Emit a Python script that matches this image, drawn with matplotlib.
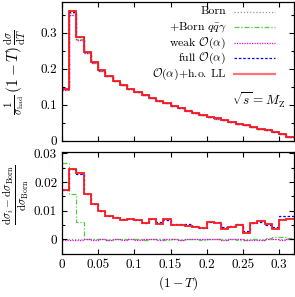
import numpy as np
import matplotlib
matplotlib.use("Agg")
import matplotlib.pyplot as plt
from matplotlib.ticker import MultipleLocator, FuncFormatter
from matplotlib.lines import Line2D

plt.rcParams['font.family'] = 'serif'
plt.rcParams['font.serif'] = ['cmr10']
plt.rcParams['mathtext.fontset'] = 'cm'
plt.rcParams['axes.formatter.use_mathtext'] = True
plt.rcParams['axes.unicode_minus'] = False

# bin edges (1-T), width 0.01
edges = np.round(np.arange(0, 0.3201, 0.01), 3)

# top panel: Born distribution (1/sigma)(1-T) dsigma/dT
born_top = [0.140, 0.350, 0.280, 0.243, 0.215, 0.194, 0.178, 0.165, 0.153, 0.143,
            0.134, 0.126, 0.118, 0.110, 0.103, 0.096, 0.089, 0.083, 0.077, 0.071,
            0.066, 0.061, 0.056, 0.051, 0.046, 0.042, 0.037, 0.032, 0.028, 0.023,
            0.018, 0.010]

# bottom panel: relative corrections
rel_qqg = [0.0265, 0.0160, 0.0060, 0.0003, 0.0002, 0.0001, -0.0003, 0.0000, 0.0002, 0.0001,
           0.0000, -0.0002, 0.0001, 0.0000, -0.0001, 0.0002, -0.0001, 0.0000, 0.0001, -0.0001,
           0.0000, 0.0001, -0.0001, 0.0002, -0.0002, -0.0003, 0.0000, -0.0002, 0.0004, 0.0008,
           0.0007, 0.0004]
rel_weak = [-0.0001, -0.0001, -0.0001, 0.0000, -0.0001, 0.0000, -0.0001, 0.0000, -0.0001, 0.0000,
            -0.0001, 0.0000, 0.0000, -0.0001, 0.0001, 0.0000, -0.0001, 0.0000, 0.0001, 0.0000,
            0.0001, 0.0000, -0.0001, 0.0000, 0.0000, -0.0002, -0.0003, -0.0002, 0.0000, 0.0001,
            -0.0001, 0.0000]
rel_full = [0.0172, 0.0244, 0.0229, 0.0158, 0.0123, 0.0100, 0.0082, 0.0079, 0.0070, 0.0072,
            0.0067, 0.0058, 0.0070, 0.0061, 0.0066, 0.0053, 0.0055, 0.0052, 0.0046, 0.0041,
            0.0062, 0.0060, 0.0042, 0.0046, 0.0052, 0.0030, 0.0057, 0.0060, 0.0050, 0.0044,
            0.0083, 0.0082]
rel_holl = [0.0172, 0.0246, 0.0230, 0.0159, 0.0124, 0.0100, 0.0081, 0.0076, 0.0067, 0.0070,
            0.0068, 0.0058, 0.0072, 0.0055, 0.0072, 0.0049, 0.0051, 0.0046, 0.0043, 0.0040,
            0.0062, 0.0058, 0.0038, 0.0043, 0.0050, 0.0021, 0.0058, 0.0064, 0.0054, 0.0037,
            0.0066, 0.0070]
rel_born = [0.0] * 32

labels = ["Born", r"+Born $q\bar{q}\gamma$", r"weak $\mathcal{O}(\alpha)$",
          r"full $\mathcal{O}(\alpha)$", r"$\mathcal{O}(\alpha)$+h.o. LL"]
colors = ['#999999', '#55cc44', '#ee00ee', '#0000ff', '#ff1a1a']
styles = [(0, (1, 1.5)), (0, (4, 1.5, 1, 1.5)), (0, (1, 1)), (0, (2, 1.5)), '-']
widths = [0.9, 0.9, 0.9, 0.9, 1.3]
rels = [rel_born, rel_qqg, rel_weak, rel_full, rel_holl]

fig = plt.figure(figsize=(2.95, 2.97), dpi=100)
W, H = 295.0, 297.0
px0, px1 = 62.0, 293.5
py0, py1 = 2.0, 140.5
x0, x1 = px0 / W, px1 / W
ax1 = fig.add_axes([x0, 1 - py1 / H, x1 - x0, (py1 - py0) / H])
ax2 = fig.add_axes([x0, 1 - 254 / H, x1 - x0, (254 - 152) / H])

born_arr = np.array(born_top)
for rel, c, ls, lw in zip(rels, colors, styles, widths):
    ax1.stairs(born_arr * (1 + np.array(rel)), edges, baseline=None, color=c, linestyle=ls, linewidth=lw)
    ax2.stairs(rel, edges, baseline=None, color=c, linestyle=ls, linewidth=lw)

fs = 9.5
ax1.set_xlim(0, 0.32)
ax1.set_ylim(0, 0.385)
ax2.set_xlim(0, 0.32)
ax2.set_ylim(-0.0051, 0.0305)

fmt = FuncFormatter(lambda v, p: '{:g}'.format(round(v, 4)))
for ax in (ax1, ax2):
    ax.xaxis.set_major_locator(MultipleLocator(0.05))
    ax.tick_params(which='both', direction='in', top=True, right=True, labelsize=fs, width=0.8)
    ax.tick_params(which='major', length=3.5)
    ax.tick_params(which='minor', length=2.5)
    for s in ax.spines.values():
        s.set_linewidth(0.9)
ax1.yaxis.set_major_locator(MultipleLocator(0.1))
ax1.yaxis.set_minor_locator(MultipleLocator(0.05))
ax2.yaxis.set_major_locator(MultipleLocator(0.01))
ax2.yaxis.set_minor_locator(MultipleLocator(0.005))
ax1.yaxis.set_major_formatter(fmt)
ax2.yaxis.set_major_formatter(fmt)
ax2.xaxis.set_major_formatter(fmt)
ax1.tick_params(labelbottom=False)

ax2.set_xlabel(r"$(1-T)$", fontsize=fs, labelpad=2)

fig.text(15 / W, 1 - 72 / H, r"$\frac{1}{\sigma_{\rm had}}\,(1-T)\,\frac{\mathrm{d}\sigma}{\mathrm{d}T}$",
         rotation=90, ha='center', va='center', fontsize=11)
fig.text(16.5 / W, 1 - 195 / H, r"$\frac{\mathrm{d}\sigma_i-\mathrm{d}\sigma_{\rm Born}}{\mathrm{d}\sigma_{\rm Born}}$",
         rotation=90, ha='center', va='center', fontsize=11.5)

# manual legend (positions in pixels inside top axes)
def axx(px):
    return (px - px0) / (px1 - px0)

def axy(py):
    return (py1 - py) / (py1 - py0)

lfs = 8.5
row_y = [11.5, 27.0, 42.5, 58.0, 74.0]
for yy, c, ls, lw, lab in zip(row_y, colors, styles, widths, labels):
    ax1.add_line(Line2D([axx(234), axx(275)], [axy(yy), axy(yy)], transform=ax1.transAxes,
                        color=c, linestyle=ls, linewidth=lw if lw < 1.2 else 1.6, alpha=1 if lw < 1.2 else 0.6))
    ax1.text(axx(226), axy(yy + 3.0), lab, transform=ax1.transAxes, ha='right', va='baseline', fontsize=lfs)

ax1.text(axx(285), axy(100), r"$\sqrt{s}=M_{\rm Z}$", transform=ax1.transAxes, ha='right', va='center', fontsize=fs)

fig.savefig("out.png", dpi=100)
